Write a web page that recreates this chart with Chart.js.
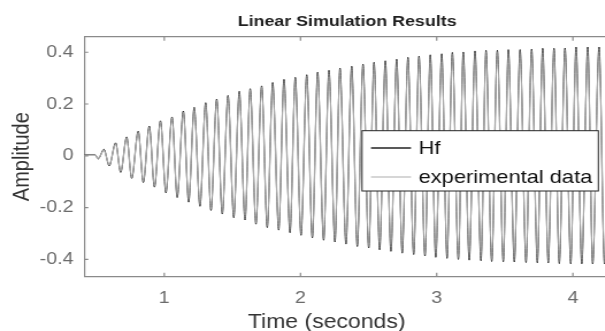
<!DOCTYPE html>
<html>
<head>
<meta charset="utf-8">
<script src="https://cdn.jsdelivr.net/npm/chart.js@4.4.1/dist/chart.umd.min.js"></script>
<style>
  html, body { margin: 0; padding: 0; background: #fff; width: 605px; height: 331px; overflow: hidden; }
  /* the reference picture is stretched sideways, so the canvas is too */
  #wrap { position: absolute; left: 0; top: 0; transform: scaleX(1.15); transform-origin: 0 0; }
</style>
</head>
<body>
<div id="wrap"><canvas id="chart" width="540" height="331"></canvas></div>
<script>
// peaks and troughs, seconds
const timeValues = [
  0.413, 0.491, 0.515, 0.557, 0.596, 0.643, 0.680, 0.724, 0.761, 0.809,
  0.846, 0.890, 0.928, 0.972, 1.012, 1.057, 1.095, 1.140, 1.179, 1.220,
  1.262, 1.304, 1.343, 1.385, 1.426, 1.468, 1.510, 1.551, 1.593, 1.631,
  1.673, 1.715, 1.756, 1.796, 1.840, 1.879, 1.923, 1.962, 2.004, 2.046,
  2.087, 2.126, 2.170, 2.209, 2.253, 2.290, 2.334, 2.376, 2.417, 2.459,
  2.501, 2.540, 2.581, 2.623, 2.664, 2.706, 2.747, 2.789, 2.831, 2.870,
  2.914, 2.953, 2.993, 3.037, 3.076, 3.115, 3.159, 3.195, 3.239, 3.281,
  3.325, 3.362, 3.404, 3.445, 3.489, 3.526, 3.570, 3.612, 3.656, 3.697,
  3.739, 3.778, 3.819, 3.861, 3.900, 3.942, 3.984, 4.023, 4.065, 4.109,
  4.145, 4.192, 4.232, 4.276
];

const hfValues = [
  0.005, 0.005, -0.012, 0.025, -0.039, 0.050, -0.064, 0.073, -0.087, 0.095,
  -0.103, 0.115, -0.121, 0.135, -0.143, 0.150, -0.161, 0.173, -0.179, 0.187,
  -0.195, 0.205, -0.211, 0.219, -0.225, 0.233, -0.239, 0.249, -0.248, 0.259,
  -0.264, 0.270, -0.277, 0.283, -0.287, 0.295, -0.297, 0.303, -0.307, 0.313,
  -0.317, 0.323, -0.326, 0.330, -0.333, 0.339, -0.341, 0.346, -0.350, 0.354,
  -0.356, 0.361, -0.363, 0.367, -0.369, 0.373, -0.376, 0.380, -0.381, 0.385,
  -0.387, 0.390, -0.392, 0.394, -0.396, 0.399, -0.400, 0.401, -0.403, 0.405,
  -0.405, 0.407, -0.408, 0.407, -0.409, 0.410, -0.410, 0.410, -0.412, 0.412,
  -0.413, 0.415, -0.414, 0.415, -0.416, 0.416, -0.417, 0.420, -0.417, 0.420,
  -0.418, 0.420, -0.418, 0.421
];

const expValues = [
  0.003, 0.003, -0.009, 0.021, -0.035, 0.046, -0.060, 0.069, -0.083, 0.091,
  -0.099, 0.111, -0.117, 0.131, -0.139, 0.146, -0.157, 0.169, -0.175, 0.183,
  -0.191, 0.201, -0.207, 0.215, -0.221, 0.229, -0.235, 0.245, -0.244, 0.255,
  -0.260, 0.266, -0.273, 0.279, -0.283, 0.291, -0.293, 0.299, -0.303, 0.309,
  -0.313, 0.319, -0.322, 0.326, -0.329, 0.335, -0.337, 0.342, -0.346, 0.350,
  -0.352, 0.357, -0.359, 0.363, -0.365, 0.369, -0.372, 0.376, -0.377, 0.381,
  -0.383, 0.386, -0.388, 0.390, -0.392, 0.395, -0.396, 0.397, -0.399, 0.401,
  -0.401, 0.403, -0.404, 0.403, -0.405, 0.406, -0.406, 0.406, -0.408, 0.408,
  -0.409, 0.411, -0.410, 0.411, -0.412, 0.412, -0.413, 0.416, -0.413, 0.416,
  -0.414, 0.416, -0.414, 0.417
];

const seriesNames = ["Hf", "experimental data"];
const xTickValues = [1, 2, 3, 4];
const yTickValues = [-0.4, -0.2, 0, 0.2, 0.4];
const yTickLabels = ["-0.4", "-0.2", "0", "0.2", "0.4"];

const FONT = "'Liberation Sans', Arial, Helvetica, sans-serif";
const AXIS_GREY = "#8a8a8a";

const toPoints = ys => ys.map((y, i) => ({ x: timeValues[i], y }));

// box ticks, top edge, legend and x label, MATLAB style
const framePlugin = {
  id: "frame",
  afterDraw (chart) {
    const { ctx, chartArea: area, scales: { x, y } } = chart;
    ctx.save();
    ctx.strokeStyle = AXIS_GREY;
    ctx.lineWidth = 1.2;
    ctx.beginPath();
    ctx.moveTo(area.left, area.top);
    ctx.lineTo(chart.width, area.top);
    xTickValues.forEach(v => {
      const px = x.getPixelForValue(v);
      ctx.moveTo(px, area.bottom);
      ctx.lineTo(px, area.bottom - 4);
      ctx.moveTo(px, area.top);
      ctx.lineTo(px, area.top + 4);
    });
    yTickValues.forEach(v => {
      const py = y.getPixelForValue(v);
      ctx.moveTo(area.left, py);
      ctx.lineTo(area.left + 3.5, py);
    });
    ctx.stroke();

    // legend
    const box = { left: 314.8, top: 130.7, right: 520.3, bottom: 191 };
    ctx.fillStyle = "#fff";
    ctx.fillRect(box.left, box.top, box.right - box.left, box.bottom - box.top);
    ctx.strokeStyle = "#262626";
    ctx.lineWidth = 1;
    ctx.strokeRect(box.left, box.top, box.right - box.left, box.bottom - box.top);
    const rows = [148, 177];
    [0, 1].forEach((di, i) => {
      const ds = chart.data.datasets[di];
      ctx.strokeStyle = ds.legendColor;
      ctx.lineWidth = 1.4;
      ctx.beginPath();
      ctx.moveTo(322.6, rows[i]);
      ctx.lineTo(357.4, rows[i]);
      ctx.stroke();
      ctx.fillStyle = "#111";
      ctx.font = "19px " + FONT;
      ctx.textAlign = "left";
      ctx.textBaseline = "middle";
      ctx.fillText(ds.label, 364, rows[i] + 1);
    });

    // x label sits left of the axes centre in the reference
    ctx.fillStyle = "#333";
    ctx.font = "20px " + FONT;
    ctx.textAlign = "center";
    ctx.textBaseline = "middle";
    ctx.fillText("Time (seconds)", 284, 322);
    ctx.restore();
  }
};

new Chart(document.getElementById("chart"), {
  type: "line",
  data: {
    datasets: [
      {
        label: seriesNames[0],
        data: toPoints(hfValues),
        borderColor: "#000",
        legendColor: "#222",
        borderWidth: 0.9,
        pointRadius: 0,
        cubicInterpolationMode: "monotone",
        order: 1,
      },
      {
        label: seriesNames[1],
        data: toPoints(expValues),
        borderColor: "#a9a9a9",
        legendColor: "#c8c8c8",
        borderWidth: 1.3,
        pointRadius: 0,
        cubicInterpolationMode: "monotone",
        order: 0,
      },
    ],
  },
  options: {
    responsive: false,
    animation: false,
    layout: { padding: { left: 0, right: 9.6, top: 0, bottom: 0 } },
    plugins: {
      legend: { display: false },
      tooltip: { enabled: false },
      title: {
        display: true,
        text: "Linear Simulation Results",
        fullSize: false,
        color: "#1f1f1f",
        font: { family: FONT, size: 15.5, weight: "bold", lineHeight: 1.2 },
        padding: { top: 12.4, bottom: 5.7 },
      },
    },
    scales: {
      x: {
        type: "linear",
        min: 0.413,
        max: 4.272,
        grid: { display: false, drawTicks: false },
        border: { display: true, color: AXIS_GREY, width: 1.2 },
        afterBuildTicks: s => { s.ticks = xTickValues.map(v => ({ value: v })); },
        afterFit: s => { s.height = 54.3; },
        ticks: {
          padding: 11.5,
          color: "#6b6b6b",
          font: { family: FONT, size: 17 },
          callback: v => String(v),
        },
      },
      y: {
        type: "linear",
        min: -0.467,
        max: 0.46,
        grid: { display: false, drawTicks: false },
        border: { display: true, color: AXIS_GREY, width: 1.2 },
        afterBuildTicks: s => { s.ticks = yTickValues.map(v => ({ value: v })); },
        afterFit: s => { s.width = 73.3; },
        ticks: {
          padding: 9.4,
          color: "#6b6b6b",
          font: { family: FONT, size: 17 },
          callback: (v, i) => yTickLabels[i],
        },
        title: {
          display: true,
          text: "Amplitude",
          color: "#333",
          font: { family: FONT, size: 20, lineHeight: 1 },
          padding: { top: 9, bottom: 0 },
        },
      },
    },
  },
  plugins: [framePlugin],
});
</script>
</body>
</html>
